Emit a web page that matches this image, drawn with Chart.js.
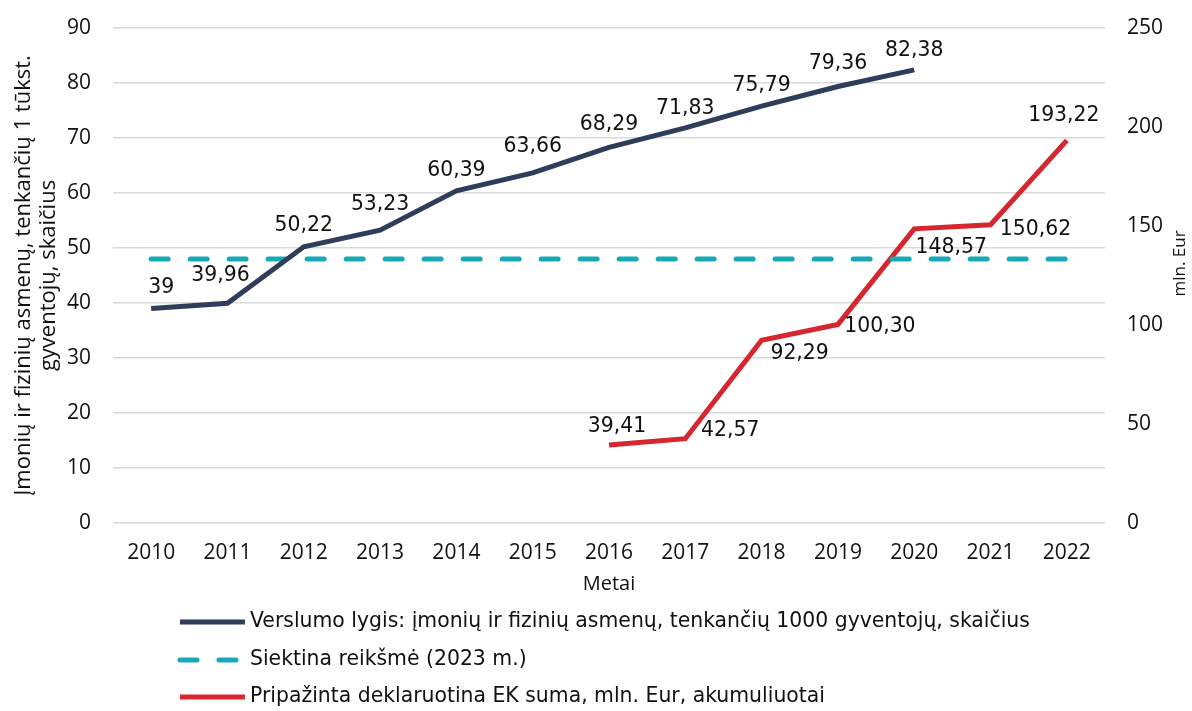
<!DOCTYPE html>
<html>
<head>
<meta charset="utf-8">
<script src="https://cdn.jsdelivr.net/npm/chart.js@4/dist/chart.umd.min.js"></script>
<style>
  html, body { margin: 0; padding: 0; background: #fff; }
  #wrap { width: 1192px; height: 711px; }
</style>
</head>
<body>
<div id="wrap"><canvas id="chart" width="1192" height="711"></canvas></div>
<script>
// Data
const years = ['2010', '2011', '2012', '2013', '2014', '2015', '2016', '2017', '2018', '2019', '2020', '2021', '2022'];
const businessLevel = [39, 39.96, 50.22, 53.23, 60.39, 63.66, 68.29, 71.83, 75.79, 79.36, 82.38, null, null];
const targetValue = [48, 48, 48, 48, 48, 48, 48, 48, 48, 48, 48, 48, 48];
const ecAmount = [null, null, null, null, null, null, 39.41, 42.57, 92.29, 100.30, 148.57, 150.62, 193.22];

const leftTicksMax = 90;
const rightTicksMax = 250;
const leftTitle = ['Įmonių ir fizinių asmenų, tenkančių 1 tūkst.', 'gyventojų, skaičius'];
const rightTitle = 'mln. Eur';

// label placement relative to each point (dx, dy)
const businessLabelOffsets = [[10, -21], [-7, -28], [0, -21], [0, -26], [0, -20], [0, -26], [0, -23], [0, -19], [0, -20], [0, -23], [0, -19], null, null];
const ecLabelOffsets = [null, null, null, null, null, null, [8, -18], [45, -8], [38, 13], [42, 2], [37, 19], [45, 5], [-3, -25]];

const labelFont = '20.4px "DejaVu Sans", sans-serif';
const tickFont = { family: '"Open Sans", sans-serif', size: 21 };

function fmt(v) {
    return Number.isInteger(v) ? String(v) : v.toFixed(2).replace('.', ',');
}

// Value labels next to the points
const valueLabels = {
    id: 'valueLabels',
    afterDatasetsDraw(chart) {
        const ctx = chart.ctx;
        ctx.save();
        ctx.font = labelFont;
        ctx.fillStyle = '#111';
        ctx.textAlign = 'center';
        ctx.textBaseline = 'middle';
        chart.data.datasets.forEach((ds, i) => {
            if (!ds.labelOffsets) return;
            const meta = chart.getDatasetMeta(i);
            meta.data.forEach((pt, j) => {
                const v = ds.data[j];
                const off = ds.labelOffsets[j];
                if (v === null || !off) return;
                ctx.fillText(fmt(v), pt.x + off[0], pt.y + off[1]);
            });
        });
        ctx.restore();
    }
};

// Both axis titles read bottom-to-top
const axisTitles = {
    id: 'axisTitles',
    afterDraw(chart) {
        const ctx = chart.ctx;
        const area = chart.chartArea;
        const midY = (area.top + area.bottom) / 2;
        ctx.save();
        ctx.fillStyle = '#111';
        ctx.textAlign = 'center';
        ctx.textBaseline = 'middle';
        ctx.font = '22px "Open Sans", sans-serif';
        leftTitle.forEach((line, i) => {
            ctx.save();
            ctx.translate(24 + i * 25, midY);
            ctx.rotate(-Math.PI / 2);
            ctx.fillText(line, 0, 0);
            ctx.restore();
        });
        ctx.font = '17px "Open Sans", sans-serif';
        ctx.translate(1180, midY - 12);
        ctx.rotate(-Math.PI / 2);
        ctx.fillText(rightTitle, 0, 0);
        ctx.restore();
    }
};

// Legend stacked under the chart
const stackedLegend = {
    id: 'stackedLegend',
    afterDraw(chart) {
        const ctx = chart.ctx;
        const x0 = 180, x1 = 245, rowY = [622, 660, 697];
        ctx.save();
        ctx.font = labelFont;
        ctx.fillStyle = '#111';
        ctx.textBaseline = 'middle';
        ctx.textAlign = 'left';
        chart.data.datasets.forEach((ds, i) => {
            const y = rowY[i];
            ctx.beginPath();
            ctx.strokeStyle = ds.borderColor;
            ctx.lineWidth = ds.borderWidth;
            ctx.lineCap = ds.borderCapStyle || 'butt';
            ctx.setLineDash(ds.borderDash || []);
            ctx.moveTo(x0, y);
            ctx.lineTo(x1, y);
            ctx.stroke();
            ctx.setLineDash([]);
            ctx.fillText(ds.label, 250, y);
        });
        ctx.restore();
    }
};

function fixVertical(width) {
    return (scale) => {
        scale.width = width;
        scale.paddingTop = 0;
        scale.paddingBottom = 0;
    };
}

const ctx = document.getElementById('chart').getContext('2d');
new Chart(ctx, {
    type: 'line',
    data: {
        labels: years,
        datasets: [
            {
                label: 'Verslumo lygis: įmonių ir fizinių asmenų, tenkančių 1000 gyventojų, skaičius',
                data: businessLevel,
                yAxisID: 'y',
                borderColor: '#2e3d59',
                borderWidth: 5,
                pointRadius: 0,
                tension: 0,
                labelOffsets: businessLabelOffsets
            },
            {
                label: 'Siektina reikšmė (2023 m.)',
                data: targetValue,
                yAxisID: 'y',
                borderColor: '#17a9b5',
                borderWidth: 5,
                borderDash: [17, 22],
                borderCapStyle: 'round',
                pointRadius: 0
            },
            {
                label: 'Pripažinta deklaruotina EK suma, mln. Eur, akumuliuotai',
                data: ecAmount,
                yAxisID: 'y1',
                borderColor: '#d6262e',
                borderWidth: 5,
                pointRadius: 0,
                tension: 0,
                labelOffsets: ecLabelOffsets
            }
        ]
    },
    options: {
        responsive: false,
        animation: false,
        layout: { padding: { top: 28, bottom: 111, left: 0, right: 0 } },
        plugins: {
            legend: { display: false },
            tooltip: { enabled: false }
        },
        scales: {
            x: {
                offset: true,
                grid: { display: false },
                border: { display: false },
                ticks: {
                    color: '#111',
                    font: tickFont,
                    padding: 9,
                    maxRotation: 0
                },
                title: {
                    display: true,
                    text: 'Metai',
                    color: '#111',
                    font: { family: '"Open Sans", sans-serif', size: 20 },
                    padding: { top: 0 }
                },
                afterFit: (scale) => { scale.height = 77; }
            },
            y: {
                position: 'left',
                min: 0,
                max: leftTicksMax,
                ticks: { stepSize: 10, color: '#111', font: tickFont, padding: 22 },
                grid: { color: '#d9d9d9', lineWidth: 1.5, drawTicks: false },
                border: { display: false },
                afterFit: fixVertical(113)
            },
            y1: {
                position: 'right',
                min: 0,
                max: rightTicksMax,
                ticks: { stepSize: 50, color: '#111', font: tickFont, padding: 22 },
                grid: { display: false, drawTicks: false },
                border: { display: false },
                afterFit: fixVertical(87)
            }
        }
    },
    plugins: [valueLabels, axisTitles, stackedLegend]
});
</script>
</body>
</html>
